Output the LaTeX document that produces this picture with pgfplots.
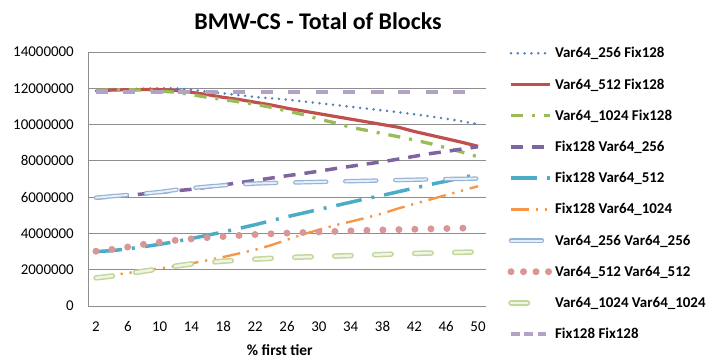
\documentclass[border=0pt]{standalone}
\usepackage{fontspec}
\setmainfont{Carlito}
\usepackage{pgfplots}
\usepackage{pgfplotstable}
\pgfplotsset{compat=1.18}
\definecolor{cA}{HTML}{4F81BD}
\definecolor{cB}{HTML}{C0504D}
\definecolor{cC}{HTML}{9BBB59}
\definecolor{cD}{HTML}{8064A2}
\definecolor{cE}{HTML}{4BACC6}
\definecolor{cF}{HTML}{F79646}
\definecolor{cG}{HTML}{95B3D7}
\definecolor{cGi}{HTML}{E6EEF8}
\definecolor{cH}{HTML}{D99694}
\definecolor{cI}{HTML}{C3D69B}
\definecolor{cIi}{HTML}{F0F6E6}
\definecolor{cJ}{HTML}{B3A2C7}
\definecolor{gridc}{HTML}{8E8E8E}
\pgfplotstableread{
x a b c d e f g h i j
2 11850000 11870000 11880000 5950000 3000000 1600000 5970000 3020000 1550000 11780000
4 11900000 11900000 11920000 6020000 3050000 1700000 6050000 3120000 1650000 11780000
6 11950000 11920000 11920000 6100000 3150000 1820000 6120000 3250000 1780000 11780000
8 11980000 11930000 11900000 6180000 3270000 1950000 6200000 3400000 1920000 11780000
10 12000000 11930000 11850000 6260000 3400000 2070000 6280000 3520000 2050000 11780000
12 12000000 11880000 11780000 6350000 3550000 2200000 6400000 3620000 2200000 11780000
14 11920000 11780000 11650000 6430000 3720000 2350000 6500000 3700000 2320000 11780000
16 11820000 11650000 11500000 6550000 3900000 2520000 6580000 3770000 2400000 11780000
18 11720000 11500000 11380000 6670000 4080000 2700000 6650000 3830000 2470000 11780000
20 11620000 11380000 11250000 6800000 4280000 2900000 6700000 3890000 2530000 11780000
22 11520000 11230000 11120000 6920000 4480000 3100000 6750000 3940000 2580000 11780000
24 11450000 11080000 10950000 7050000 4700000 3350000 6780000 3980000 2630000 11780000
26 11380000 10900000 10750000 7180000 4920000 3650000 6800000 4020000 2670000 11780000
28 11280000 10750000 10550000 7300000 5120000 3950000 6820000 4050000 2700000 11780000
30 11180000 10600000 10300000 7430000 5320000 4200000 6840000 4080000 2720000 11780000
32 11080000 10450000 10100000 7570000 5520000 4450000 6860000 4110000 2750000 11780000
34 10980000 10300000 9850000 7700000 5720000 4650000 6880000 4140000 2780000 11780000
36 10880000 10150000 9680000 7830000 5920000 4870000 6900000 4170000 2810000 11780000
38 10780000 10000000 9500000 7950000 6100000 5100000 6920000 4190000 2840000 11780000
40 10680000 9850000 9330000 8100000 6300000 5380000 6940000 4210000 2870000 11780000
42 10570000 9620000 9150000 8250000 6500000 5630000 6960000 4230000 2900000 11780000
44 10450000 9420000 8950000 8400000 6700000 5870000 6980000 4250000 2920000 11780000
46 10320000 9220000 8720000 8520000 6880000 6120000 7000000 4270000 2940000 11780000
48 10180000 9020000 8480000 8650000 7080000 6360000 7010000 4290000 2960000 11780000
50 10020000 8800000 8220000 8780000 7250000 6600000 7020000 4300000 2980000 11780000
}\datatable
\begin{document}
\begin{tikzpicture}
\useasboundingbox (0,0) rectangle (710bp,363bp);
\begin{axis}[
  at={(88bp,57bp)}, anchor=south west,
  scale only axis, width=398bp, height=254bp,
  xmin=1, xmax=51, ymin=0, ymax=14000000,
  enlargelimits=false,
  axis x line*=bottom, axis y line*=left,
  axis line style={draw=gridc, line width=0.9bp, -},
  ymajorgrids, grid style={draw=gridc, line width=0.9bp},
  major tick length=0pt,
  xtick={2,6,10,14,18,22,26,30,34,38,42,46,50},
  ytick={0,2000000,4000000,6000000,8000000,10000000,12000000,14000000},
  scaled y ticks=false,
  /pgf/number format/assume math mode=true,
  yticklabel style={/pgf/number format/fixed, /pgf/number format/1000 sep={}, /pgf/number format/precision=0, anchor=east, inner sep=0pt, xshift=-14bp},
  xticklabel style={anchor=base, inner sep=0pt, yshift=-25.5bp},
  tick label style={font=\fontsize{15}{18}\selectfont, black},
  xlabel={\% first tier},
  xlabel style={at={(axis description cs:0.482,-0.193)}, anchor=base, font=\bfseries\fontsize{15.5}{18}\selectfont, inner sep=0pt},
  legend image code/.code={\draw[#1] (0bp,0bp) -- (39bp,0bp); \path (40.5bp,0bp);},
  legend cell align=left,
  legend style={at={(axis description cs:1,1)}, anchor=north west, xshift=21.5bp, yshift=5.2bp,
    draw=none, fill=none, inner sep=0pt, outer sep=0pt, row sep=18.2bp,
    font=\bfseries\fontsize{15}{18}\selectfont,
    nodes={inner sep=0pt, text height=11bp, text depth=2bp}},
]
\addplot[draw=cA, line width=2.8bp, line cap=round, dash pattern=on 0bp off 6.8bp] table[x=x,y=a]{\datatable};
\addlegendentry{Var64\_256 Fix128}
\addplot[draw=cB, line width=3.2bp, line join=round] table[x=x,y=b]{\datatable};
\addlegendentry{Var64\_512 Fix128}
\addplot[draw=cC, line width=3.3bp, line cap=butt, dash pattern=on 12bp off 9bp on 3bp off 9bp] table[x=x,y=c]{\datatable};
\addlegendentry{Var64\_1024 Fix128}
\addplot[draw=cD, line width=3.5bp, dash pattern=on 12bp off 9bp] table[x=x,y=d]{\datatable};
\addlegendentry{Fix128 Var64\_256}
\addplot[draw=cE, line width=3.5bp, dash pattern=on 26bp off 10bp on 3bp off 10bp] table[x=x,y=e]{\datatable};
\addlegendentry{Fix128 Var64\_512}
\addplot[draw=cF, line width=2.4bp, dash pattern=on 18bp off 6.75bp on 2.25bp off 6.75bp on 2.25bp off 6.75bp] table[x=x,y=f]{\datatable};
\addlegendentry{Fix128 Var64\_1024}
\addplot[draw=cG, line width=1.2bp, double=cGi, double distance=2bp, line cap=round, dash pattern=on 31bp off 19bp] table[x=x,y=g]{\datatable};
\addlegendentry{Var64\_256 Var64\_256}
\addplot[draw=cH, line width=7bp, line cap=round, dash pattern=on 0bp off 16bp, legend image post style={dash pattern=on 0bp off 12.5bp}] table[x=x,y=h]{\datatable};
\addlegendentry{Var64\_512 Var64\_512}
\addplot[draw=cI, line width=1.5bp, double=cIi, double distance=2.5bp, line cap=round, dash pattern=on 16.5bp off 23.5bp] table[x=x,y=i]{\datatable};
\addlegendentry{Var64\_1024 Var64\_1024}
\addplot[draw=cJ, line width=4bp, dash pattern=on 12bp off 15.5bp, legend image post style={dash pattern=on 8.5bp off 4.8bp}] table[x=x,y=j]{\datatable};
\addlegendentry{Fix128 Fix128}
\end{axis}
\node[anchor=base, inner sep=0pt, font=\bfseries\fontsize{24}{28}\selectfont] at (318bp,333bp) {BMW-CS - Total of Blocks};
\end{tikzpicture}
\end{document}
